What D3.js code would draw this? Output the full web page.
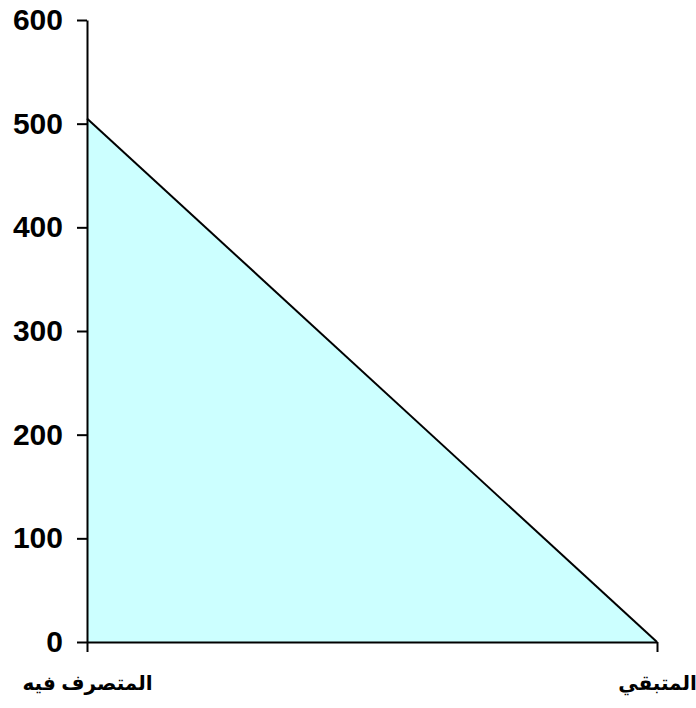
<!DOCTYPE html>
<html><head><meta charset="utf-8">
<script src="https://cdn.jsdelivr.net/npm/d3@7"></script>
<style>body{margin:0;background:#fff}svg{display:block}</style>
</head><body>
<svg id="c" width="696" height="708"></svg>
<script>
const categories = ["المتصرف فيه", "المتبقي"];
const values = [505, 0];
const yTicks = [0, 100, 200, 300, 400, 500, 600];

const svg = d3.select("#c");
const m = {left: 87, right: 39, top: 20, bottom: 66};
const W = 696, H = 708;
const x = d3.scalePoint().domain(categories).range([m.left, W - m.right]);
const y = d3.scaleLinear().domain([0, 600]).range([H - m.bottom, m.top]);

const data = categories.map((c, i) => ({c, v: values[i]}));
const area = d3.area().x(d => x(d.c)).y0(y(0)).y1(d => y(d.v));
const line = d3.line().x(d => x(d.c)).y(d => y(d.v));

svg.append("path").datum(data).attr("d", area).attr("fill", "#CCFFFF");
svg.append("path").datum(data).attr("d", line).attr("fill", "none").attr("stroke", "#000").attr("stroke-width", 2);

const font = "Arial, 'Liberation Sans', 'DejaVu Sans', sans-serif";
const ya = svg.append("g").attr("transform", `translate(${m.left},0)`)
  .call(d3.axisLeft(y).tickValues(yTicks).tickSize(10).tickPadding(14).tickSizeOuter(0));
ya.select(".domain").attr("stroke", "#000").attr("stroke-width", 2);
ya.selectAll(".tick line").attr("stroke", "#000").attr("stroke-width", 2);
ya.selectAll(".tick text").attr("font-family", font).attr("font-weight", "bold").attr("font-size", 30).attr("fill", "#000");

const xa = svg.append("g").attr("transform", `translate(0,${y(0)})`)
  .call(d3.axisBottom(x).tickSize(10).tickPadding(24).tickSizeOuter(0));
xa.select(".domain").attr("stroke", "#000").attr("stroke-width", 2);
xa.selectAll(".tick line").attr("stroke", "#000").attr("stroke-width", 2);
xa.selectAll(".tick text").attr("font-family", font).attr("font-weight", "bold").attr("font-size", 20).attr("fill", "#000").attr("direction", "rtl");
</script>
</body></html>
